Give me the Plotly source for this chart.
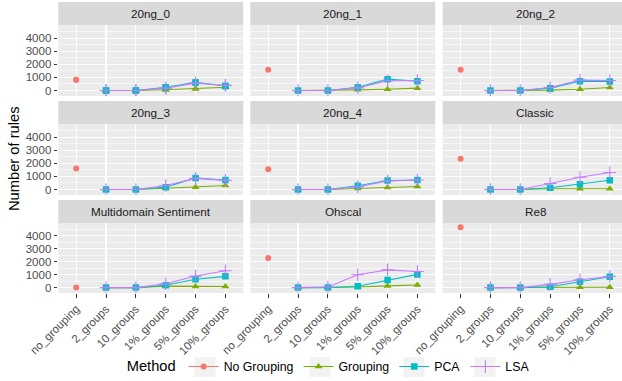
import plotly.graph_objects as go

categories = ["no_grouping", "2_groups", "10_groups", "1%_groups", "5%_groups", "10%_groups"]
datasets = ["20ng_0", "20ng_1", "20ng_2", "20ng_3", "20ng_4", "Classic",
            "Multidomain Sentiment", "Ohscal", "Re8"]

# value at "no_grouping" for the No Grouping method
no_grouping = [815, 1580, 1580, 1600, 1550, 2340, 15, 2290, 4680]

# values for 2_groups, 10_groups, 1%_groups, 5%_groups, 10%_groups
grouping = [
    [0, 0, 60, 140, 250],
    [0, 0, 50, 100, 180],
    [0, 0, 30, 100, 230],
    [0, 0, 100, 180, 300],
    [0, 0, 80, 150, 230],
    [0, 0, 60, 60, 60],
    [0, 0, 110, 80, 80],
    [0, 0, 50, 130, 200],
    [0, 0, 10, 20, 30],
]
pca = [
    [0, 0, 250, 620, 340],
    [0, 0, 250, 865, 710],
    [0, 0, 180, 710, 690],
    [0, 0, 180, 880, 730],
    [0, 0, 280, 690, 720],
    [0, 0, 130, 410, 710],
    [0, 0, 180, 640, 870],
    [0, 0, 100, 585, 1020],
    [0, 0, 60, 460, 840],
]
lsa = [
    [0, 0, 180, 560, 400],
    [0, 0, 200, 740, 760],
    [0, 0, 230, 790, 760],
    [0, 0, 300, 850, 700],
    [0, 0, 200, 650, 720],
    [0, 0, 460, 940, 1300],
    [0, 0, 300, 890, 1300],
    [0, 50, 990, 1370, 1250],
    [0, 0, 250, 610, 860],
]

methods = ["No Grouping", "Grouping", "PCA", "LSA"]
colors = {"No Grouping": "#F8766D", "Grouping": "#7CAE00", "PCA": "#00BFC4", "LSA": "#C77CFF"}
symbols = {"No Grouping": "circle", "Grouping": "triangle-up", "PCA": "square", "LSA": "cross-thin"}
msizes = {"No Grouping": 6, "Grouping": 7, "PCA": 6.5, "LSA": 9}

W, H = 622, 381
FONT = "Liberation Sans, Arial, sans-serif"

# panel geometry in pixels
col_x = [(58.3, 243.3), (250.3, 435.3), (442.7, 622.0)]
row_strip = [(2, 25), (101, 124), (200, 223)]
row_panel = [(25, 96), (124, 195), (223, 293)]
# centres of the legend key backgrounds (pixels)
legend_key_cx = [205, 320, 414, 485]
legend_cy = 367

fig = go.Figure()

def series_for(i, m):
    if m == "No Grouping":
        return [categories[0]], [no_grouping[i]]
    vals = {"Grouping": grouping, "PCA": pca, "LSA": lsa}[m][i]
    return categories[1:], vals

def mk(m):
    d = dict(color=colors[m], symbol=symbols[m], size=msizes[m])
    if m == "LSA":
        d["line"] = dict(color=colors[m], width=1.1)
    else:
        d["line"] = dict(width=0)
    return d

annotations = []
shapes = []
for i, ds in enumerate(datasets):
    r, c = divmod(i, 3)
    xa = "x" if i == 0 else f"x{i+1}"
    ya = "y" if i == 0 else f"y{i+1}"
    # line layer
    for m in methods:
        xs, ys = series_for(i, m)
        if i == 0:
            fig.add_trace(go.Scatter(x=xs, y=ys, mode="lines+markers", name=m,
                                     legendgroup=m, showlegend=True,
                                     line=dict(color=colors[m], width=1.1),
                                     marker=mk(m), xaxis=xa, yaxis=ya,
                                     hoverinfo="skip"))
        elif m != "No Grouping":
            fig.add_trace(go.Scatter(x=xs, y=ys, mode="lines", name=m,
                                     legendgroup=m, showlegend=False,
                                     line=dict(color=colors[m], width=1.1),
                                     xaxis=xa, yaxis=ya, hoverinfo="skip"))
    # point layer
    for m in methods:
        xs, ys = series_for(i, m)
        fig.add_trace(go.Scatter(x=xs, y=ys, mode="markers", name=m,
                                 legendgroup=m, showlegend=False,
                                 marker=mk(m), xaxis=xa, yaxis=ya, hoverinfo="skip"))

    x0, x1 = col_x[c]
    width_full = 185.0
    span = (x1 - x0) / width_full * 6.2
    p0, p1 = row_panel[r]
    xkey = "xaxis" if i == 0 else f"xaxis{i+1}"
    ykey = "yaxis" if i == 0 else f"yaxis{i+1}"
    fig.layout[xkey] = dict(
        domain=[x0 / W, min(x1 / W, 1.0)], anchor=ya, type="category",
        categoryorder="array", categoryarray=categories,
        range=[-0.6, -0.6 + span], showgrid=True, gridcolor="white", gridwidth=1.1,
        showticklabels=(r == 2), ticks="outside" if r == 2 else "",
        ticklen=3.7, tickcolor="#333333", tickwidth=1, tickangle=-45,
        tickfont=dict(family=FONT, size=11.5, color="#4D4D4D"),
        zeroline=False, showline=False, fixedrange=True, automargin=False)
    fig.layout[ykey] = dict(
        domain=[1 - p1 / H, 1 - p0 / H], anchor=xa,
        range=[-420, 5000], tickvals=[0, 1000, 2000, 3000, 4000],
        ticktext=["0", "1000", "2000", "3000", "4000"],
        showgrid=True, gridcolor="white", gridwidth=1.1,
        minor=dict(tickvals=[500, 1500, 2500, 3500, 4500], showgrid=True,
                   gridcolor="white", gridwidth=0.55),
        showticklabels=(c == 0), ticks="outside" if c == 0 else "",
        ticklen=3.7, tickcolor="#333333", tickwidth=1,
        tickfont=dict(family=FONT, size=11.5, color="#4D4D4D"),
        zeroline=False, showline=False, fixedrange=True, automargin=False)

    s0, s1 = row_strip[r]
    shapes.append(dict(type="rect", xref="paper", yref="paper",
                       x0=x0 / W, x1=min(x1 / W, 1.0), y0=1 - s1 / H, y1=1 - s0 / H,
                       fillcolor="#D9D9D9", line=dict(width=0), layer="below"))
    annotations.append(dict(text=ds, xref="paper", yref="paper",
                            x=(x0 + x0 + 185.0) / 2 / W, y=1 - (s0 + s1) / 2 / H,
                            xanchor="center", yanchor="middle", showarrow=False,
                            font=dict(family=FONT, size=11.7, color="#1A1A1A")))

# grey key backgrounds as in ggplot legends
for cx in legend_key_cx:
    shapes.append(dict(type="rect", xref="paper", yref="paper",
                       x0=(cx - 10.5) / W, x1=(cx + 10.5) / W,
                       y0=1 - (legend_cy + 10) / H, y1=1 - (legend_cy - 10) / H,
                       fillcolor="#F2F2F2", line=dict(width=0), layer="below"))

annotations.append(dict(text="Number of rules", xref="paper", yref="paper",
                        x=14 / W, y=1 - 159 / H, textangle=-90,
                        xanchor="center", yanchor="middle", showarrow=False,
                        font=dict(family=FONT, size=14.7, color="#000000")))

fig.update_layout(
    width=W, height=H, margin=dict(l=0, r=0, t=0, b=0, autoexpand=False),
    paper_bgcolor="white", plot_bgcolor="#EBEBEB",
    shapes=shapes, annotations=annotations,
    showlegend=True,
    legend=dict(orientation="h", x=0.53, xanchor="center", y=1 - legend_cy / H,
                yanchor="middle", title=dict(text="Method", side="left",
                                             font=dict(family=FONT, size=14.7, color="#000000")),
                font=dict(family=FONT, size=12.3, color="#000000"),
                itemwidth=30, bgcolor="rgba(0,0,0,0)"),
    font=dict(family=FONT),
)

fig.write_html("out.html", config={"displayModeBar": False, "staticPlot": True},
               post_script="document.body.style.margin='0';document.body.style.overflow='hidden';")
